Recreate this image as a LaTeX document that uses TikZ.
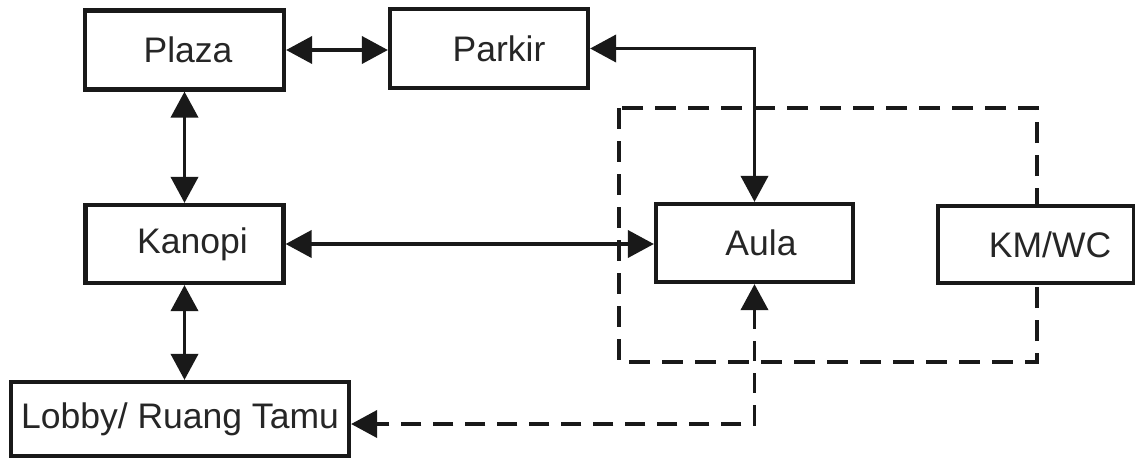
\documentclass[tikz,border=0pt]{standalone}
\usepackage{fontspec}
\setmainfont{Liberation Sans}
\usetikzlibrary{arrows.meta}
\begin{document}
\begin{tikzpicture}[x=1pt,y=-1pt,
  box/.style={draw=black!90, line width=4.2pt, fill=white, inner sep=0pt, align=center,
    font=\fontsize{35.5}{40}\selectfont, text=black!85},
  tipA/.tip={Triangle[length=26pt,width=27pt]},
  link/.style={line width=3.8pt, draw=black!90, {tipA}-{tipA}},
  onearrow/.style={line width=3.8pt, draw=black!90, -{tipA}},
  dlink/.style={line width=3.8pt, draw=black!90, dash pattern=on 20pt off 12pt},
  area/.style={line width=3.8pt, draw=black!90, dash pattern=on 21pt off 12pt}]
\useasboundingbox (0,0) rectangle (1135,459);
% dashed zone
\draw[area] (619,108) rectangle (1037,362);
% boxes
\node[box, minimum width=199pt, minimum height=79pt] (plaza) at (184.5,50) {\hspace*{7pt}Plaza};
\node[box, minimum width=198pt, minimum height=79pt] (parkir) at (489,48.5) {\hspace*{20pt}Parkir};
\node[box, minimum width=198pt, minimum height=78pt] (kanopi) at (184.5,244) {\hspace*{16pt}Kanopi};
\node[box, minimum width=197pt, minimum height=78pt] (aula) at (754.5,243) {\hspace*{13pt}Aula};
\node[box, minimum width=196pt, minimum height=77pt] (kmwc) at (1036,244.5) {\hspace*{28pt}KM/WC};
\node[box, minimum width=338pt, minimum height=74pt] (lobby) at (180,419) {Lobby/ Ruang Tamu};
% connectors
\draw[link] (plaza.east) -- (plaza.east -| parkir.west);
\draw[link] (plaza.south) -- (plaza.south |- kanopi.north);
\draw[link] (parkir.east) -| (aula.north);
\draw[link] (kanopi.east) -- (kanopi.east -| aula.west);
\draw[link] (kanopi.south) -- (kanopi.south |- lobby.north);
\coordinate (turn) at (aula.south |- 0,424);
\coordinate (aulafoot) at ([yshift=-25pt]aula.south);
\coordinate (lobbyfoot) at ([xshift=25pt]lobby.east |- turn);
\draw[dlink] (aulafoot) -- (turn) -- (lobbyfoot);
\draw[onearrow] ([yshift=-30pt]aula.south) -- (aula.south);
\draw[onearrow] ([xshift=30pt]lobby.east |- turn) -- (lobby.east |- turn);
\end{tikzpicture}
\end{document}
